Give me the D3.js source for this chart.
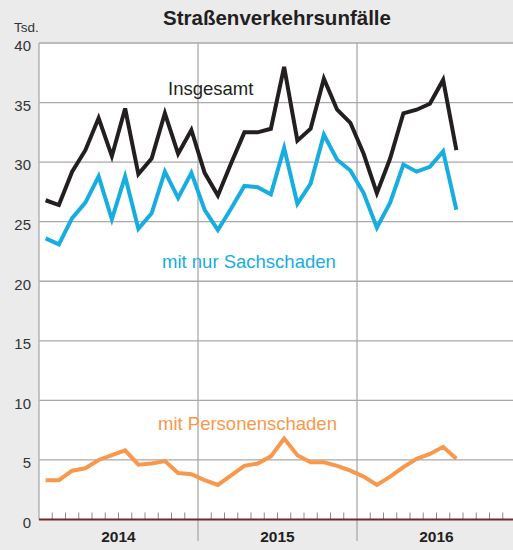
<!DOCTYPE html>
<html>
<head>
<meta charset="utf-8">
<script src="https://cdn.jsdelivr.net/npm/d3@7"></script>
<style>
  html, body { margin: 0; padding: 0; background: #ebebec; }
  svg { display: block; font-family: "Liberation Sans", Arial, Helvetica, sans-serif; }
</style>
</head>
<body>
<svg id="chart" width="513" height="550"></svg>
<script>
// Monthly road traffic accidents in thousands, Jan 2014 – Aug 2016
const years = ["2014", "2015", "2016"];
const insgesamt = [
  26.8, 26.4, 29.2, 31.0, 33.7, 30.5, 34.5, 29.0, 30.3, 34.1, 30.7, 32.7,
  29.1, 27.2, 29.9, 32.5, 32.5, 32.8, 38.0, 31.8, 32.8, 37.0, 34.4, 33.3,
  30.7, 27.4, 30.3, 34.1, 34.4, 34.9, 36.9, 31.0
];
const sachschaden = [
  23.6, 23.1, 25.3, 26.6, 28.8, 25.2, 28.8, 24.4, 25.7, 29.2, 27.0, 29.1,
  26.0, 24.3, 26.1, 28.0, 27.9, 27.3, 31.2, 26.5, 28.2, 32.3, 30.2, 29.3,
  27.4, 24.5, 26.6, 29.8, 29.2, 29.6, 30.9, 26.0
];
const personenschaden = [
  3.3, 3.3, 4.1, 4.3, 5.0, 5.4, 5.8, 4.6, 4.7, 4.9, 3.9, 3.8,
  3.3, 2.9, 3.7, 4.5, 4.7, 5.3, 6.8, 5.4, 4.8, 4.8, 4.5, 4.1,
  3.6, 2.9, 3.6, 4.4, 5.1, 5.5, 6.1, 5.1
];
const yTicks = [0, 5, 10, 15, 20, 25, 30, 35, 40];

const series = [
  { name: "Insgesamt", values: insgesamt, color: "#231f20", lx: 168, ly: 95 },
  { name: "mit nur Sachschaden", values: sachschaden, color: "#17ade0", lx: 162, ly: 268 },
  { name: "mit Personenschaden", values: personenschaden, color: "#f7984c", lx: 158, ly: 430 }
];

const svg = d3.select("#chart");
const plotLeft = 39, plotRight = 516, plotTop = 43, plotBottom = 519.5;

const x = d3.scaleLinear().domain([0, 36]).range([plotLeft, plotRight]);
const y = d3.scaleLinear().domain([0, 40]).range([plotBottom, plotTop]);

// Title and unit
svg.append("text")
  .attr("x", 277).attr("y", 25)
  .attr("text-anchor", "middle")
  .attr("font-size", 20.5).attr("font-weight", "bold")
  .attr("fill", "#231f20")
  .text("Straßenverkehrsunfälle");

svg.append("text")
  .attr("x", 14).attr("y", 31.5)
  .attr("font-size", 13.5).attr("fill", "#333")
  .text("Tsd.");

// White plot area
svg.append("rect")
  .attr("x", plotLeft).attr("y", plotTop)
  .attr("width", 513 - plotLeft).attr("height", plotBottom - plotTop)
  .attr("fill", "#fff");

// Horizontal gridlines
svg.append("g")
  .selectAll("line")
  .data(yTicks.filter(d => d > 0))
  .join("line")
  .attr("x1", plotLeft).attr("x2", 513)
  .attr("y1", d => y(d)).attr("y2", d => y(d))
  .attr("stroke", "#a9a9a9").attr("stroke-width", 1.3);

// Left border
svg.append("line")
  .attr("x1", plotLeft).attr("x2", plotLeft)
  .attr("y1", plotTop).attr("y2", plotBottom)
  .attr("stroke", "#b5b5b5").attr("stroke-width", 1.5);

// Year separators extend into the label band
svg.append("g")
  .selectAll("line")
  .data([12, 24])
  .join("line")
  .attr("x1", d => x(d)).attr("x2", d => x(d))
  .attr("y1", plotTop).attr("y2", 541)
  .attr("stroke", "#a9a9a9").attr("stroke-width", 1.3);

// Y axis labels
const yAxis = d3.axisLeft(y).tickValues(yTicks).tickSize(0).tickPadding(0);
const yg = svg.append("g").attr("transform", "translate(31,0)").call(yAxis);
yg.select(".domain").remove();
yg.selectAll("text")
  .attr("font-size", 15).attr("fill", "#333")
  .attr("font-family", "Liberation Sans, Arial, sans-serif")
  .attr("dy", "0.52em");

// Month ticks along the baseline
const months = d3.range(1, 36).filter(m => m % 12 !== 0);
svg.append("g")
  .selectAll("line")
  .data(months)
  .join("line")
  .attr("x1", d => x(d)).attr("x2", d => x(d))
  .attr("y1", plotBottom - 7).attr("y2", plotBottom)
  .attr("stroke", "#8a8a8a").attr("stroke-width", 1);

// Lines
const line = d3.line()
  .x((d, i) => x(i + 0.5))
  .y(d => y(d));

series.forEach(s => {
  svg.append("path")
    .datum(s.values)
    .attr("d", line)
    .attr("fill", "none")
    .attr("stroke", s.color)
    .attr("stroke-width", 4)
    .attr("stroke-linejoin", "miter");
});

// Baseline
svg.append("line")
  .attr("x1", plotLeft).attr("x2", 513)
  .attr("y1", plotBottom).attr("y2", plotBottom)
  .attr("stroke", "#6e2a2a").attr("stroke-width", 2);

// Series labels
series.forEach(s => {
  svg.append("text")
    .attr("x", s.lx).attr("y", s.ly)
    .attr("font-size", 18.5)
    .attr("fill", s.color)
    .text(s.name);
});

// Year labels
svg.append("g")
  .selectAll("text")
  .data(years)
  .join("text")
  .attr("x", (d, i) => x(i * 12 + 6))
  .attr("y", 541.5)
  .attr("text-anchor", "middle")
  .attr("font-size", 15.5).attr("font-weight", "bold")
  .attr("fill", "#231f20")
  .text(d => d);
</script>
</body>
</html>
